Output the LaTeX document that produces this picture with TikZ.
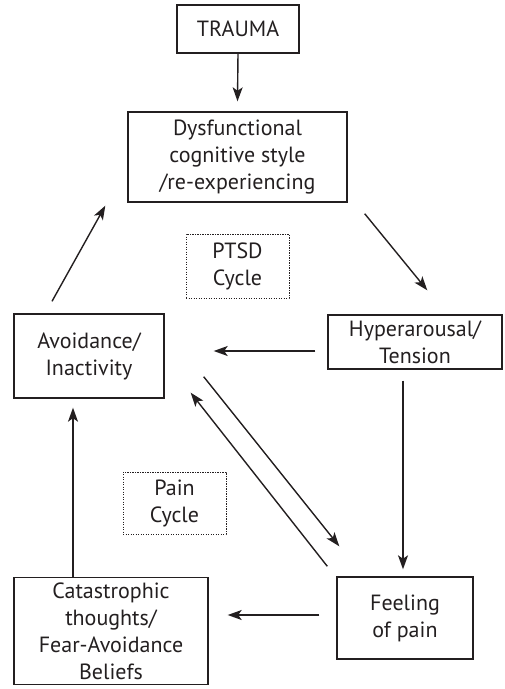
\documentclass[tikz,border=0pt]{standalone}
\usepackage{fontspec}
\setmainfont{PT Sans}
\usetikzlibrary{arrows.meta}
\definecolor{ink}{HTML}{231F20}
\begin{document}
\begin{tikzpicture}[x=1pt,y=-1pt,
  every node/.style={font=\fontsize{22}{27}\selectfont, text=ink, align=center, inner sep=0pt},
  stagebox/.style={draw=ink, line width=1.4pt, rectangle},
  cyclebox/.style={draw=ink, line width=0.9pt, dash pattern=on 1.1pt off 1.4pt, rectangle},
  arr/.style={draw=ink, line width=1.4pt, -{Stealth[length=14pt,width=10pt,inset=3.5pt]}}]
\useasboundingbox (0,0) rectangle (505,689);

% stages of the cycles
\node[stagebox, minimum width=122pt, minimum height=48pt] (trauma) at (238,29) {TRAUMA};
\node[stagebox, minimum width=219pt, minimum height=90pt] (dysf) at (237.5,157) {Dysfunctional\\cognitive style\\/re-experiencing};
\node[stagebox, minimum width=174pt, minimum height=54pt] (hyper) at (415,342) {Hyperarousal/\\Tension};
\node[stagebox, minimum width=150pt, minimum height=84pt] (avoid) at (89,356) {Avoidance/\\Inactivity};
\node[stagebox, minimum width=136pt, minimum height=82pt] (feel) at (405,618) {Feeling\\of pain};
\node[stagebox, minimum width=194pt, minimum height=107pt] (cata) at (111,631) {Catastrophic\\thoughts/\\Fear-Avoidance\\Beliefs};

% cycle labels
\node[cyclebox, minimum width=103pt, minimum height=64pt] (ptsd) at (237.5,266) {PTSD\\Cycle};
\node[cyclebox, minimum width=103pt, minimum height=62pt] (pain) at (174.5,503) {Pain\\Cycle};

% connectors
\draw[arr] (trauma.south) -- ([shift={(0,-10)}]dysf.north);
\draw[arr] ([shift={(17,11)}]dysf.south east) -- ([shift={(100,-24)}]hyper.north west);
\draw[arr] ([shift={(-12,9)}]hyper.west) -- ([shift={(49,-5)}]avoid.east);
\draw[arr] ([shift={(-12,11)}]hyper.south) -- ([shift={(-2,-7)}]feel.north);
\draw[arr] ([shift={(39,-22)}]avoid.south east) -- ([shift={(3,-30)}]feel.north west);
\draw[arr] ([shift={(-9,-10)}]feel.north west) -- ([shift={(26,-6)}]avoid.south east);
\draw[arr] ([shift={(-17,-3)}]feel.west) -- ([shift={(19,-16)}]cata.east);
\draw[arr] ([shift={(-38,0)}]cata.north) -- ([shift={(-16,9)}]avoid.south);
\draw[arr] ([shift={(-37,-12)}]avoid.north) -- ([shift={(-22,3)}]dysf.south west);
\end{tikzpicture}
\end{document}
